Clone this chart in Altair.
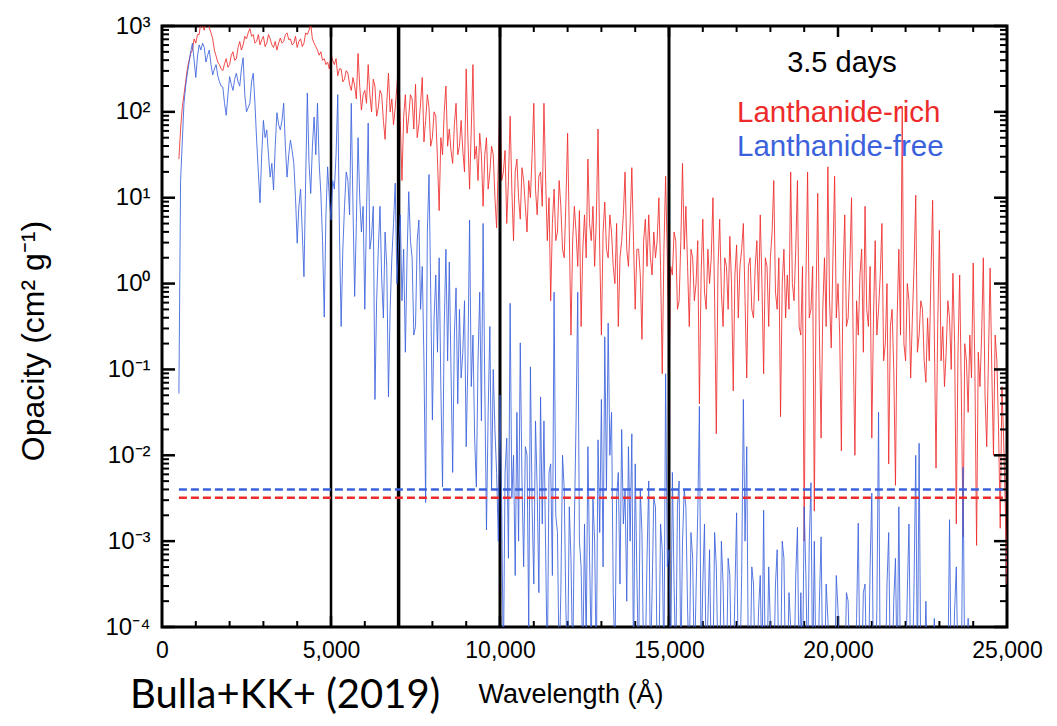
import altair as alt
import pandas as pd

# ---------------- data (log10 of opacity, sampled every 50 Angstrom from 500) ----------------
WL_START = 500
WL_STEP = 50

RED_LOG = [
    1.45, 1.8, 2.05, 2.2, 2.35, 2.5, 2.6, 2.68, 2.72, 2.85, 2.8, 2.9, 2.9, 3.05, 3.0, 2.95, 3.05, 3.1, 2.98, 2.92,
    2.85, 2.72, 2.65, 2.58, 2.55, 2.5, 2.48, 2.56, 2.62, 2.52, 2.55, 2.66, 2.7, 2.6, 2.62, 2.75, 2.82, 2.72, 2.78, 2.88,
    2.85, 2.92, 2.97, 2.88, 2.9, 2.8, 2.82, 2.9, 2.78, 2.84, 2.88, 2.76, 2.8, 2.9, 2.85, 2.78, 2.75, 2.82, 2.72, 2.8,
    2.86, 2.8, 2.82, 2.9, 2.92, 2.84, 2.85, 2.78, 2.8, 2.88, 2.75, 2.82, 2.85, 2.76, 2.8, 2.92, 2.9, 2.95, 3.02, 2.85,
    2.8, 2.76, 2.72, 2.66, 2.7, 2.6, 2.62, 2.55, 2.58, 2.5, 2.68, 2.6, 2.55, 2.62, 2.42, 2.5, 2.5, 2.35, 2.38, 2.48,
    2.45, 2.32, 2.25, 2.4, 2.3, 2.15, 2.68, 2.3, 2.02, 2.2, 2.25, 2.1, 2.55, 2.2, 2.0, 2.38, 2.3, 1.95, 2.05, 2.25,
    2.2, 1.9, 1.68, 2.1, 2.45, 2.0, 2.15, 1.85, 2.05, 2.3, 2.58, 1.9, 1.2, 1.95, 2.2, 1.75, 1.95, 2.2, 2.15, 1.8,
    2.32, 1.7, 1.85, 2.1, 2.4, 1.65, 1.9, 2.2, 2.05, 1.6, 1.7, 2.0, 1.95, 1.45, 0.85, 1.7, 1.5, 2.0, 2.3, 1.6,
    1.8, 1.55, 1.4, 1.85, 2.1, 1.5, 1.6, 1.9, 1.55, 1.3, 2.5, 1.7, 1.1, 1.8, 2.55, 1.45, 1.6, 1.2, 1.75, 1.5,
    0.9, 1.5, 1.7, 1.1, 1.3, 1.6, 1.5, 1.0, 0.65, 1.4, 2.35, 1.2, 1.3, 1.55, 0.7, 1.2, 1.95, 1.1, 0.5, 1.3,
    1.45, 1.0, 0.75, 1.35, 1.2, 0.9, 0.6, 1.2, 1.0, 1.5, 2.1, 1.1, 0.8, 1.25, 1.3, 0.9, 2.1, 1.2, 0.5, 1.0,
    -0.2, 0.7, 1.1, 0.5, 0.6, 1.2, 0.9, 0.4, 0.3, 0.95, 1.75, 0.6, -0.6, 0.5, 0.9, 0.6, 0.2, 0.85, -0.5, 0.4,
    0.8, 0.3, 1.45, 0.7, 0.5, 0.9, 0.2, 0.75, 1.8, 0.4, -0.6, 0.6, 0.95, 0.4, 0.3, 0.8, 0.6, 0.2, 0.0, 0.7,
    -0.5, 0.3, 0.5, 0.8, 1.3, 0.4, 0.2, 0.7, 1.35, 0.5, -0.3, 0.4, 0.4, 0.1, -0.65, 0.5, 0.75, 0.2, 0.8, 0.3,
    0.1, 0.6, 0.3, 0.5, 1.0, 0.2, -1.05, 0.4, 1.25, 0.3, -1.15, 0.2, 0.1, 0.6, 0.5, -0.3, -0.2, 0.5, 1.4, 0.4,
    0.9, 0.2, -0.5, 0.4, 0.3, -0.2, 0.0, 0.5, -1.4, 0.1, 0.75, -0.1, -0.3, 0.4, 0.0, 0.3, 1.0, -0.2, -1.75, 0.2,
    0.75, -0.1, -0.5, 0.3, 0.2, -0.3, 0.55, 0.0, -1.25, 0.1, 0.45, -0.4, 0.2, 0.4, 0.7, -0.2, -1.1, 0.2, 0.3, -0.3,
    -0.4, 0.2, 0.5, -0.2, 0.8, 0.0, -1.05, 0.3, 0.2, -0.5, 0.3, 0.6, 1.2, -0.1, -0.3, 0.3, -1.55, 0.0, 0.4, -0.4,
    0.1, -0.3, 1.3, 0.0, -0.2, 0.4, 1.2, -0.5, -0.6, 0.2, -3.0, 0.0, 1.3, -0.4, -0.3, 0.2, -2.65, -0.2, 1.05, -0.6,
    -1.8, -0.3, 0.3, -0.5, 1.36, -0.2, -0.75, 0.3, 1.25, -0.4, 0.0, -0.6, -1.95, 0.1, 0.8, -0.5, -0.4, 0.2, 1.0, -0.7,
    -2.0, -0.2, -0.6, 0.1, 0.4, -0.8, 0.9, -0.3, -0.5, 0.2, -1.8, -0.4, 0.5, -0.6, -0.3, 0.1, 0.7, -0.9, -0.7, 0.0,
    -2.1, -0.5, -0.3, -1.0, -2.35, -0.4, 0.4, -0.6, 2.06, -0.7, -0.9, 0.0, -0.2, -1.1, -0.4, 0.2, 1.03, -0.8, -0.6, -0.2,
    -0.3, -0.9, -1.15, -0.4, -0.9, 0.1, 0.97, -0.6, -2.15, -0.5, 0.62, -0.9, -0.5, -1.2, -0.8, -0.2, -0.4, -1.0, 0.12, -0.7,
    -2.8, -0.8, 0.1, -1.3, -2.95, -0.7, -0.9, -1.5, -0.6, -1.1, 0.24, -1.0, -3.05, -0.8, -1.2, -0.6, 0.3, -1.3, -1.9, -0.9,
    0.18, -1.0, -2.0, -0.6, -0.9, -1.7, -2.85, -1.2, -1.8, -2.6, -3.5,
]

BLUE_LOG = [
    -1.28, 1.2, 1.65, 2.1, 2.3, 2.45, 2.57, 2.7, 2.8, 2.6, 2.4, 2.65, 2.78, 2.72, 2.8, 2.75, 2.58, 2.66, 2.72, 2.55,
    2.43, 2.5, 2.55, 2.42, 2.35, 2.3, 2.29, 2.1, 1.96, 2.2, 2.41, 2.32, 2.25, 2.38, 2.45, 2.35, 2.3, 2.5, 2.63, 2.2,
    2.0, 2.05, 2.1, 2.35, 2.45, 2.1, 1.67, 1.3, 0.94, 1.5, 1.9, 1.7, 1.79, 1.5, 1.24, 1.4, 1.09, 1.6, 1.99, 1.85,
    1.79, 1.9, 2.1, 1.6, 1.24, 1.5, 1.67, 1.55, 1.4, 1.0, 0.47, 0.9, 1.1, 0.6, 0.08, 1.2, 2.22, 1.4, 1.05, 1.6,
    1.94, 1.5, 2.1, 1.4, 1.05, 0.5, -0.39, 0.8, 1.36, 1.0, 0.74, 1.2, 1.1, 1.5, 2.2, 0.6, -0.5, 0.4, 0.9, 1.3,
    1.2, 0.8, 2.1, 0.9, -0.15, 0.7, 1.7, 1.0, 0.6, 0.9, -0.3, 0.8, 1.87, 0.4, 0.55, 0.9, -1.35, -0.2, 0.4, 0.9,
    0.05, -0.4, 0.6, 0.2, -1.32, -0.3, 0.3, 0.7, 1.17, 0.0, 0.45, 0.8, -0.2, 0.4, -0.8, 0.3, 1.07, 0.5, 0.3, -0.6,
    -0.5, 0.5, 0.74, -0.3, 0.2, -0.9, -2.55, 0.6, 1.27, -0.1, -1.59, -0.4, 0.1, -0.8, 0.3, -1.2, -2.37, -0.5, 0.4, -0.9,
    0.25, -1.0, -2.2, -0.6, -0.05, -1.4, -0.3, -1.1, -0.8, -0.2, -1.9, -0.9, 0.74, -1.2, -0.6, -1.8, -2.37, -0.9, -0.1, -1.6,
    0.7, -1.2, -2.87, -1.5, -0.5, -2.4, -1.0, -1.7, -2.2, -3.0, -1.3, -2.6, -4.5, -2.2, -1.8, -3.2, -0.23, -2.5, -2.0, -3.4,
    -1.5, -3.0, -0.69, -2.3, -3.3, -1.9, -2.0, -4.0, -0.97, -2.6, -3.5, -1.6, -2.4, -3.6, -1.32, -2.8, -1.6, -3.1, -4.5, -2.2,
    -2.1, -3.4, -0.1, -2.7, -2.9, -4.5, -3.6, -2.0, -2.4, -3.8, -4.5, -2.6, -3.2, -4.5, -2.8, -1.6, -0.1, -3.0, -3.3, -4.5,
    -2.8, -4.2, -1.9, -3.2, -4.3, -2.5, -3.0, -4.5, -1.82, -2.9, -1.35, -3.3, -0.62, -2.4, -0.46, -2.0, -1.5, -3.6, -4.4, -2.5,
    -2.2, -3.5, -1.7, -2.8, -2.4, -3.7, -1.9, -3.0, -1.75, -4.5, -2.1, -3.4, -4.5, -2.4, -2.9, -4.5, -4.4, -3.2, -2.3, -4.5,
    -3.6, -2.5, -2.6, -4.5, -4.5, -2.8, -3.1, -4.5, -1.05, -3.3, -3.1, -4.5, -2.2, -3.5, -4.5, -2.6, -2.3, -4.5, -3.0, -2.4,
    -2.6, -3.8, -4.5, -2.9, -3.2, -4.5, -3.6, -2.7, -1.43, -4.5, -3.5, -2.8, -4.5, -3.9, -3.1, -4.5, -4.5, -2.9, -3.3, -4.5,
    -4.6, -3.0, -3.5, -4.6, -4.6, -3.2, -3.4, -4.6, -4.6, -3.6, -2.67, -4.6, -4.5, -3.4, -1.35, -3.0, -1.9, -4.6, -4.6, -3.3,
    -3.5, -4.6, -4.6, -3.8, -3.4, -4.6, -2.64, -4.6, -4.6, -3.3, -4.0, -4.6, -4.6, -3.5, -3.1, -4.6, -4.6, -3.0, -3.2, -4.6,
    -4.6, -3.6, -4.0, -4.6, -4.6, -3.4, -2.84, -4.6, -3.6, -4.6, -2.6, -3.4, -4.6, -3.0, -2.32, -4.6, -3.0, -4.6, -4.6, -3.7,
    -2.95, -4.6, -4.6, -3.5, -3.9, -4.6, -4.6, -4.6, -4.6, -3.4, -3.8, -4.6, -4.6, -4.6, -4.6, -3.6, -3.7, -4.6, -4.6, -4.6,
    -4.6, -3.9, -2.79, -4.6, -4.6, -3.6, -3.5, -4.6, -4.6, -3.3, -2.44, -4.6, -4.6, -3.8, -1.5, -4.6, -4.6, -4.6, -4.6, -3.5,
    -2.9, -4.6, -4.6, -3.7, -3.2, -4.6, -2.6, -4.6, -4.6, -4.6, -4.6, -3.6, -2.8, -4.6, -4.6, -3.5, -2.0, -4.6, -1.86, -4.6,
    -4.6, -4.6, -3.7, -4.6, -4.6, -4.6, -4.6, -3.9, -4.6, -4.6, -4.6, -4.6, -4.6, -4.6, -4.6, -4.6, -2.75, -4.6, -4.6, -3.8,
    -3.3, -4.6, -4.6, -4.6, -2.14, -4.6, -4.6, -3.9, -4.6, -4.6, -4.6, -4.6, -4.6, -4.6, -4.6, -4.6, -4.6, -4.6, -4.6, -4.6,
    -4.6, -4.6, -4.6, -4.6, -4.6, -4.6, -4.6, -4.6, -4.6, -4.6, -4.6,
]

VLINES = [5000, 7000, 10000, 15000]
VLINE_WIDTHS = [2.5, 3.5, 3.0, 3.0]
THRESH_VALUES = [4.0e-3, 3.2e-3]          # blue, red dashed levels
THRESH_RANGE = [500, 25000]

X_LABELS = [0, 5000, 10000, 15000, 20000, 25000]
X_MAJOR_TICKS = [5000, 10000, 15000, 20000]
X_MINOR_TICKS = [t for t in range(1000, 25000, 1000) if t % 5000]
Y_MAJOR = [1e-4, 1e-3, 1e-2, 1e-1, 1, 10, 100, 1000]
Y_MINOR = [m * 10.0 ** k for k in range(-4, 3) for m in range(2, 10)]

RED = "#ee2b2b"
BLUE = "#3b62dc"

# ---------------- layout ----------------
W, H = 845, 601
FONT = "Liberation Sans"

red_df = pd.DataFrame({"wl": [WL_START + i * WL_STEP for i in range(len(RED_LOG))],
                       "v": [10 ** v for v in RED_LOG]})
blue_df = pd.DataFrame({"wl": [WL_START + i * WL_STEP for i in range(len(BLUE_LOG))],
                        "v": [10 ** v for v in BLUE_LOG]})

xscale = alt.Scale(domain=[0, 25000], nice=False, zero=False)
yscale = alt.Scale(type="log", domain=[1e-4, 1e3], nice=False)

exp_expr = "round(log(datum.value)/LN10)"
label_expr = ("'10' + (" + exp_expr + " < 0 ? '\u207b' : '') + "
              "substring('\u2070\u00b9\u00b2\u00b3\u2074\u2075\u2076\u2077\u2078\u2079', abs(" + exp_expr + "), abs(" + exp_expr + ") + 1)")

x_axis = alt.Axis(values=X_LABELS, format=",d", labelFont=FONT, labelFontSize=23,
                  labelColor="black", ticks=False, domain=False, grid=False,
                  labelPadding=12, title=None, labelFlush=False, labelOverlap=False)
y_axis = alt.Axis(values=Y_MAJOR, labelExpr=label_expr, labelFont=FONT, labelFontSize=24,
                  labelColor="black", ticks=False, domain=False, grid=False,
                  labelPadding=12, title=None, labelOverlap=False)

axes_layer = alt.Chart(pd.DataFrame({"x": [0, 25000], "y": [1e-4, 1e3]})).mark_point(opacity=0).encode(
    x=alt.X("x:Q", scale=xscale, axis=x_axis),
    y=alt.Y("y:Q", scale=yscale, axis=y_axis),
)

red_line = alt.Chart(red_df).mark_line(color=RED, strokeWidth=1, opacity=0.85, clip=True).encode(
    x=alt.X("wl:Q", scale=xscale, axis=x_axis),
    y=alt.Y("v:Q", scale=yscale, axis=y_axis),
)
blue_line = alt.Chart(blue_df).mark_line(color=BLUE, strokeWidth=1, opacity=0.85, clip=True).encode(
    x=alt.X("wl:Q", scale=xscale, axis=x_axis),
    y=alt.Y("v:Q", scale=yscale, axis=y_axis),
)

vlines = alt.Chart(pd.DataFrame({"x": VLINES, "w": VLINE_WIDTHS})).mark_rule(color="black").encode(
    x=alt.X("x:Q", scale=xscale, axis=x_axis),
    y=alt.value(0), y2=alt.value(H),
    strokeWidth=alt.StrokeWidth("w:Q", scale=None, legend=None),
)

thresh = alt.Chart(pd.DataFrame({
    "y": THRESH_VALUES, "c": [BLUE, RED],
    "x0": [THRESH_RANGE[0]] * 2, "x1": [THRESH_RANGE[1]] * 2,
})).mark_rule(strokeDash=[8, 4], strokeWidth=2.5).encode(
    x=alt.X("x0:Q", scale=xscale, axis=x_axis), x2="x1:Q",
    y=alt.Y("y:Q", scale=yscale, axis=y_axis),
    color=alt.Color("c:N", scale=None, legend=None),
)


def yticks(vals, length, width, side):
    x0, x1 = (0, length) if side == "left" else (W - length, W)
    return alt.Chart(pd.DataFrame({"v": vals})).mark_rule(color="black", strokeWidth=width).encode(
        y=alt.Y("v:Q", scale=yscale, axis=y_axis), x=alt.value(x0), x2=alt.value(x1))


def xticks(vals, length, width, side):
    y0, y1 = (H - length, H) if side == "bottom" else (0, length)
    return alt.Chart(pd.DataFrame({"v": vals})).mark_rule(color="black", strokeWidth=width).encode(
        x=alt.X("v:Q", scale=xscale, axis=x_axis), y=alt.value(y0), y2=alt.value(y1))


ticks = [
    yticks(Y_MAJOR, 13, 2.5, "left"), yticks(Y_MINOR, 7, 2, "left"),
    yticks(Y_MAJOR, 13, 2.5, "right"), yticks(Y_MINOR, 7, 2, "right"),
    xticks(X_MAJOR_TICKS, 11, 2.5, "bottom"), xticks(X_MINOR_TICKS, 6, 2, "bottom"),
    xticks(X_MAJOR_TICKS, 11, 2.5, "top"), xticks(X_MINOR_TICKS, 6, 2, "top"),
]


def label(txt, x, y, size, color="black", font=FONT, align="left", angle=0, baseline="alphabetic"):
    return alt.Chart(pd.DataFrame({"t": [txt]})).mark_text(
        font=font, fontSize=size, color=color, align=align, baseline=baseline, angle=angle
    ).encode(text="t:N", x=alt.value(x), y=alt.value(y))


texts = [
    label("3.5 days", 680, 46, 29, align="center"),
    label("Lanthanide-rich", 575, 96, 29.5, color=RED),
    label("Lanthanide-free", 575, 130, 29.5, color=BLUE),
    label("Wavelength (\u00c5)", 409, 677, 27, align="center"),
    label("Opacity (cm\u00b2 g\u207b\u00b9)", -128, 315, 32, align="center", angle=270, baseline="middle"),
    label("Bulla+KK+ (2019)", -32, 682, 40, font="Lato"),
]

chart = alt.layer(
    axes_layer, red_line, vlines, *ticks, blue_line, thresh, *texts
).properties(
    width=W, height=H, autosize="none",
    padding={"left": 162, "top": 26, "right": 50, "bottom": 99},
).configure_view(stroke="black", strokeWidth=3)

chart.save("out.html", embed_options={"renderer": "svg", "actions": False})
